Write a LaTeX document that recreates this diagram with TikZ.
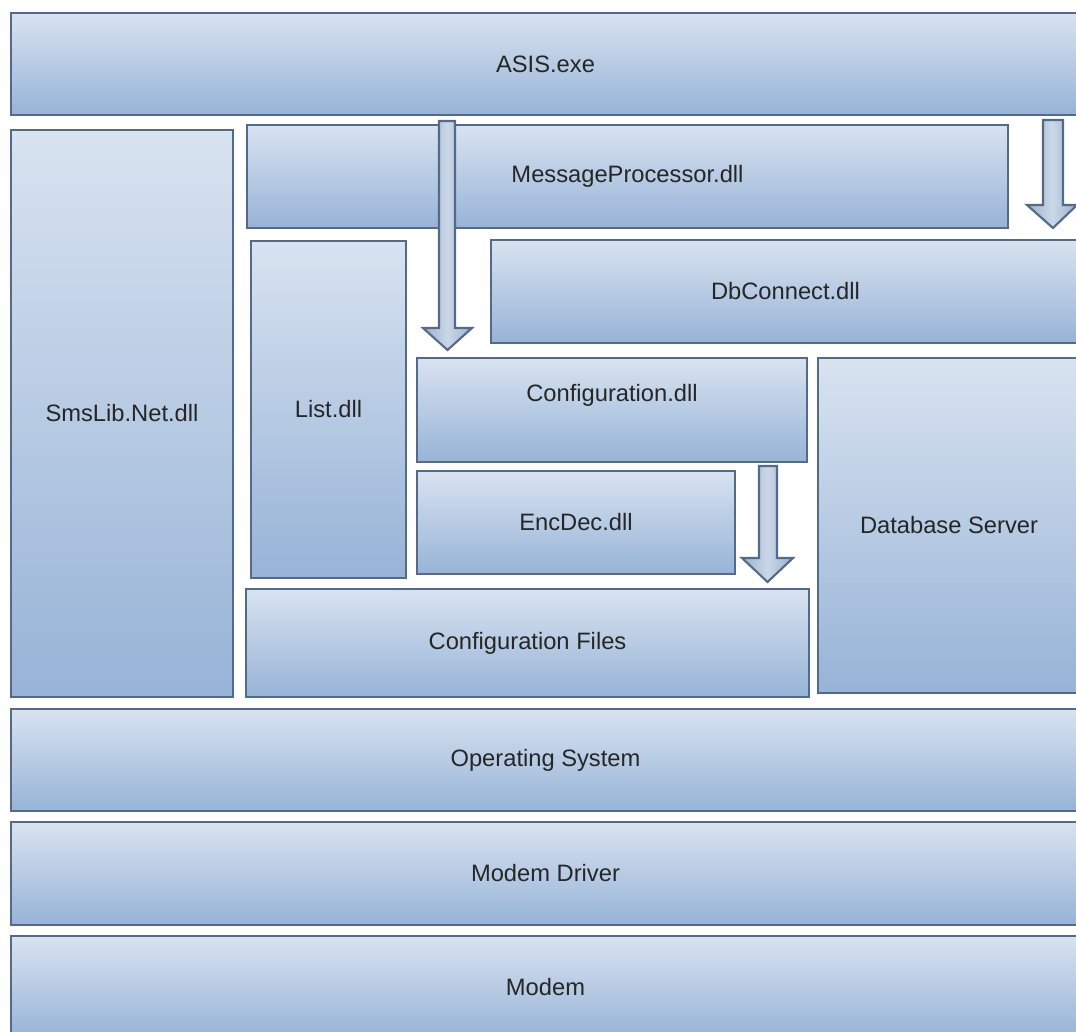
\documentclass[tikz,border=0pt]{standalone}
\usepackage{fontspec}
\setmainfont{Liberation Sans}
\usepackage{tikz}

\definecolor{boxtop}{HTML}{D8E3F0}
\definecolor{boxbot}{HTML}{97B3D7}
\definecolor{boxline}{HTML}{536A89}
\definecolor{flowmid}{HTML}{CAD7E8}
\definecolor{flowside}{HTML}{9CB1CC}

\tikzset{
  layer/.style={rectangle, draw=boxline, line width=1.4pt, top color=boxtop,
    bottom color=boxbot, inner sep=0pt, outer sep=0pt, text=black!85,
    font=\fontsize{13.5}{16}\selectfont},
  flow/.style={draw=boxline, line width=1.2pt, left color=flowside,
    right color=flowside, middle color=flowmid, line join=miter}
}

\begin{document}
\begin{tikzpicture}[x=0.02cm,y=-0.02cm]
		\useasboundingbox (0,0) rectangle (1076,1032);
		% layers
		\node (asis) [layer, minimum width=21.38cm, minimum height=2.04cm] at (545.5,64) {ASIS.exe};
		\node (sms) [layer, minimum width=4.44cm, minimum height=11.34cm] at (122,413.5) {SmsLib.Net.dll};
		\node (msg) [layer, minimum width=15.22cm, minimum height=2.06cm] at (627.5,176.5) {MessageProcessor.dll};
		\node (db) [layer, minimum width=11.78cm, minimum height=2.06cm] at (785.5,291.5) {DbConnect.dll};
		\node (list) [layer, minimum width=3.10cm, minimum height=6.74cm] at (328.5,409.5) {List.dll};
		\node (conf) [layer, minimum width=7.80cm, minimum height=2.08cm,
			label={[yshift=0.3cm, font=\fontsize{13.5}{16}\selectfont, text=black!85]center:Configuration.dll}] at (612,410) {};
		\node (dbs) [layer, minimum width=5.24cm, minimum height=6.70cm] at (949,525.5) {Database Server};
		\node (enc) [layer, minimum width=6.36cm, minimum height=2.06cm] at (576,522.5) {EncDec.dll};
		\node (cfiles) [layer, minimum width=11.26cm, minimum height=2.16cm] at (527.5,643) {Configuration Files};
		\node (os) [layer, minimum width=21.38cm, minimum height=2.04cm] at (545.5,760) {Operating System};
		\node (drv) [layer, minimum width=21.38cm, minimum height=2.06cm] at (545.5,873.5) {Modem Driver};
		\node (modem) [layer, minimum width=21.38cm, minimum height=2.04cm] at (545.5,987) {Modem};
		% block arrows
		\draw[flow] (439,121) -- (455,121) -- (455,328) -- (472,328) -- (447.5,350)
			-- (423,328) -- (439,328) -- cycle;
		\draw[flow] (1043,120) -- (1063,120) -- (1063,205) -- (1077,205) -- (1053,228)
			-- (1027,205) -- (1043,205) -- cycle;
		\draw[flow] (759,466) -- (777,466) -- (777,558) -- (793,558) -- (767.5,582)
			-- (742,558) -- (759,558) -- cycle;
\end{tikzpicture}
\end{document}
